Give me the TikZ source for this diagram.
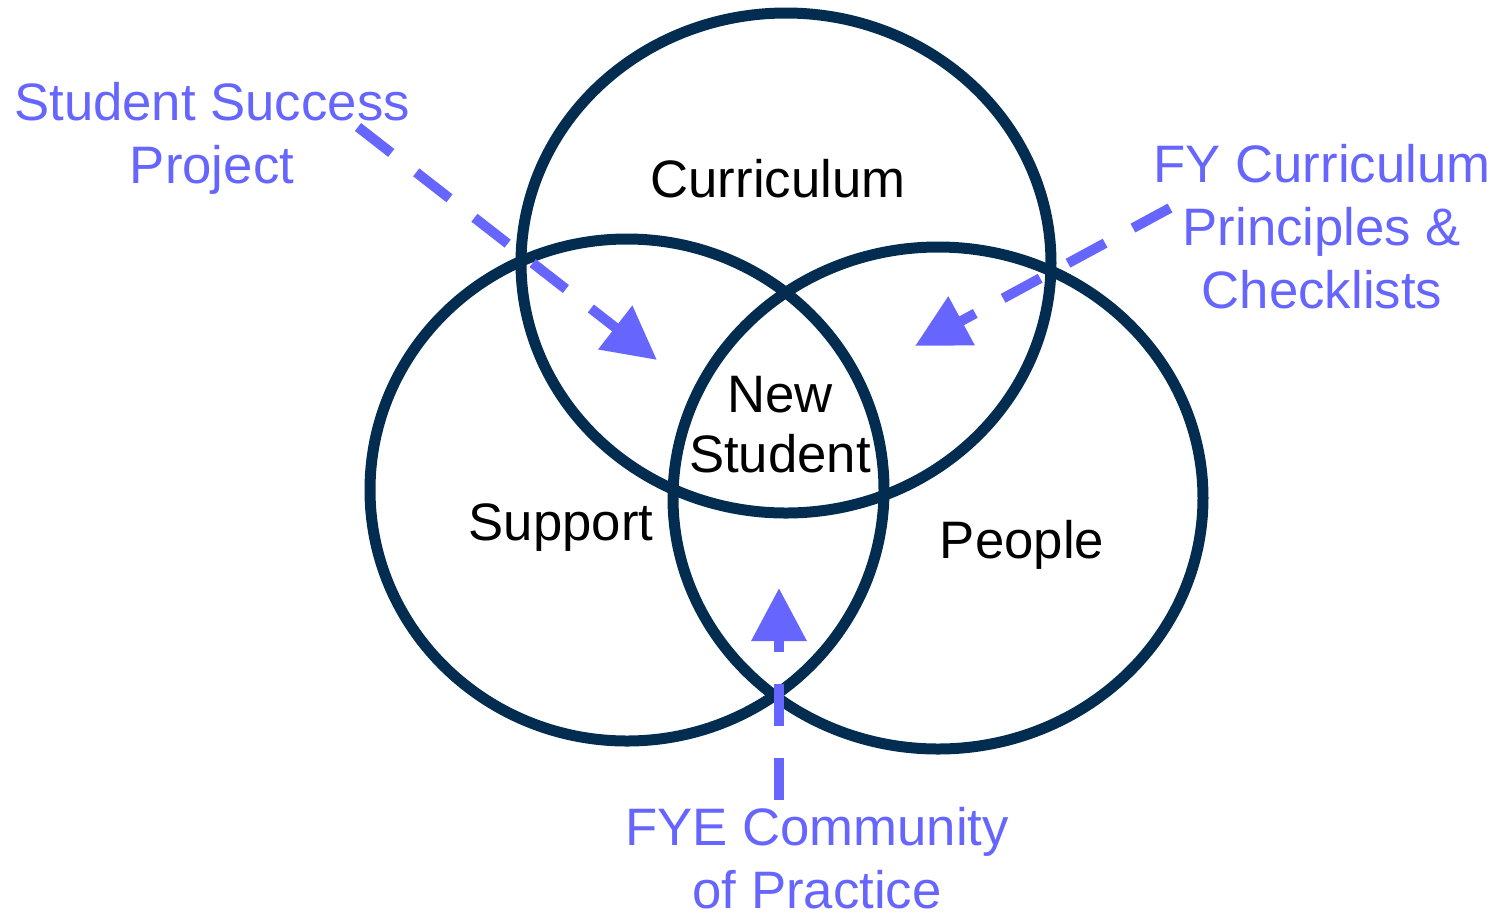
\documentclass[tikz,border=0pt]{standalone}
\usepackage{fontspec}
\setmainfont{Liberation Sans}
\usetikzlibrary{arrows.meta}
\definecolor{ringnavy}{RGB}{3,45,80}
\definecolor{notepurple}{RGB}{102,102,255}

\begin{document}
\begin{tikzpicture}[
  ring/.style={draw=ringnavy,line width=0.11cm},
  area/.style={inner sep=0pt,anchor=base,align=center,font=\fontsize{15}{17pt}\selectfont},
  note/.style={area,text=notepurple,font=\fontsize{15}{17.9pt}\selectfont},
  pointer/.style={draw=notepurple,line width=0.1cm,dash pattern=on 12pt off 9pt,
    -{Triangle[length=0.53cm,width=0.53cm]}},
]
\useasboundingbox (0,0) rectangle (15,-9.17);
\draw[ring] (7.86,-2.63) ellipse [x radius=2.65, y radius=2.50];
\draw[ring] (6.27,-4.90) ellipse [x radius=2.57, y radius=2.51];
\draw[ring] (9.38,-4.98) ellipse [x radius=2.65, y radius=2.51];

\node[area] (curriculum) at (7.78,-1.97) {Curriculum};
\node[area] (support) at (5.61,-5.40) {Support};
\node[area] (people) at (10.22,-5.58) {People};
\node[area] (newstudent) at (7.80,-4.72) {New\\Student};

\node[note] (ssp) at (2.12,-1.83) {Student Success\\Project};
\node[note] (fycp) at (13.22,-3.08) {FY Curriculum\\Principles \&\\Checklists};
\node[note] (fyecop) at (8.17,-9.08) {FYE Community\\of Practice};

\coordinate (ssp-from) at (3.58,-1.27);
\coordinate (ssp-to) at (6.57,-3.60);
\coordinate (fycp-from) at (11.70,-2.08);
\coordinate (fycp-to) at (9.15,-3.46);
\coordinate (fyecop-from) at (7.79,-8.00);
\coordinate (fyecop-to) at (7.79,-5.88);

\draw[pointer] (ssp-from) -- (ssp-to);
\draw[pointer] (fycp-from) -- (fycp-to);
\draw[pointer] (fyecop-from) -- (fyecop-to);
\end{tikzpicture}
\end{document}
